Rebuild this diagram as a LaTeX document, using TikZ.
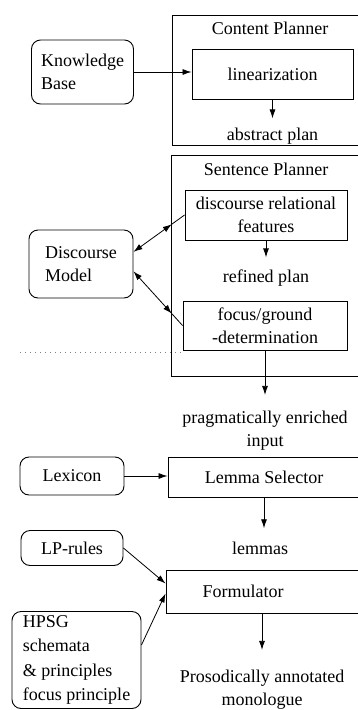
\documentclass[tikz,border=0pt]{standalone}
\usepackage{fontspec}
\setmainfont{Liberation Serif}
\usetikzlibrary{positioning,arrows.meta,calc}

\begin{document}
\begin{tikzpicture}[
  x=1pt, y=-1pt,
  block/.style={rectangle, draw, line width=0.9pt, inner sep=0pt, align=center},
  store/.style={rectangle, draw, rounded corners=9pt, line width=0.9pt, inner sep=0pt, align=left},
  frame/.style={rectangle, draw, line width=0.9pt, inner sep=0pt},
  lbl/.style={inner sep=9pt, align=center},
  >={Latex[length=9pt,width=6pt]},
  every path/.append style={line width=0.8pt},
  font=\fontsize{18}{23}\selectfont
]
\useasboundingbox (0,0) rectangle (358,710);

% Planner frames
\node[frame, minimum width=192pt, minimum height=130pt,
  label={[anchor=north, inner sep=0pt, yshift=-7pt, xshift=2pt]north:Content Planner}] (cp) at (268,80) {};
\node[frame, minimum width=190pt, minimum height=221pt,
  label={[anchor=north, inner sep=0pt, yshift=-8pt]north:Sentence Planner}] (sp) at (266,265.5) {};

% Knowledge sources
\node[store, minimum width=102pt, minimum height=64pt] (kb) at (82.5,72) {Knowledge\\Base};
\node[store, minimum width=104pt, minimum height=68pt] (dm) at (81,264) {Discourse\\Model};
\node[store, minimum width=104pt, minimum height=38pt] (lex) at (72,476) {Lexicon};
\node[store, minimum width=102pt, minimum height=35pt] (lp) at (72,548) {LP-rules};
\node[store, minimum width=129pt, minimum height=97pt, font=\fontsize{18}{24.5}\selectfont] (hpsg) at (76.5,660)
  {HPSG\\schemata\\\& principles\\focus principle};

% Content planning
\node[block, minimum width=161pt, minimum height=50pt] (lin) at (272.5,74) {linearization};
\node[lbl, below of=lin, node distance=62pt] (abs) {abstract plan};

% Sentence planning
\node[block, minimum width=162pt, minimum height=50pt] (drf) at (266,215) {discourse relational\\features};
\node[lbl, below of=drf, node distance=63pt] (rp) {refined plan};
\node[block, minimum width=164pt, minimum height=49pt] (fg) at (265,325.5) {focus/ground\\-determination};
\node[lbl, below of=fg, node distance=105.5pt] (prag) {pragmatically enriched\\input};

% Lemma selection and formulation
\node[frame, minimum width=192pt, minimum height=40pt] (ls) at (264,477) {Lemma Selector};
\node[lbl] (lem) at (260,548) {lemmas};
\node[frame, minimum width=200pt, minimum height=43pt,
  label={[xshift=-23pt]center:Formulator}] (fm) at (266,591.5) {};
\node[lbl] (pros) at (262,690) {Prosodically annotated\\monologue};

% Arrows
\draw[->] (kb.east) -- (kb.east -| lin.west);
\draw[->] (lin.south) -- (abs.north);
\draw[->, shorten >=3pt] (drf.south) -- (drf.south |- rp.north);
\draw[<->] (dm.13) -- ($(dm.13)!0.75!(drf.west)$) coordinate (dmup);
\draw (dmup) -- (drf.west);
\draw[<->] (dm.-8) -- ($(dm.-8)!0.78!(fg.west)$) coordinate (dmdown);
\draw (dmdown) -- (fg.west);
\draw[->, shorten >=7pt] (fg.south) -- (fg.south |- prag.north);
\draw[->] (lex.east) -- (lex.east -| ls.west);
\draw[->, shorten >=4pt] (ls.south) -- (ls.south |- lem.north);
\draw[->] (lp.east) -- ([yshift=8pt]fm.west);
\draw[->] ([yshift=15pt]hpsg.east) -- ([yshift=-2pt]fm.west);
\draw[->, shorten >=11pt] (pros.north |- fm.south) -- (pros.north);

% stray rule
\draw[gray, dash pattern=on 1pt off 4pt, line width=0.6pt] (20,352) -- (183,352);
\end{tikzpicture}
\end{document}
